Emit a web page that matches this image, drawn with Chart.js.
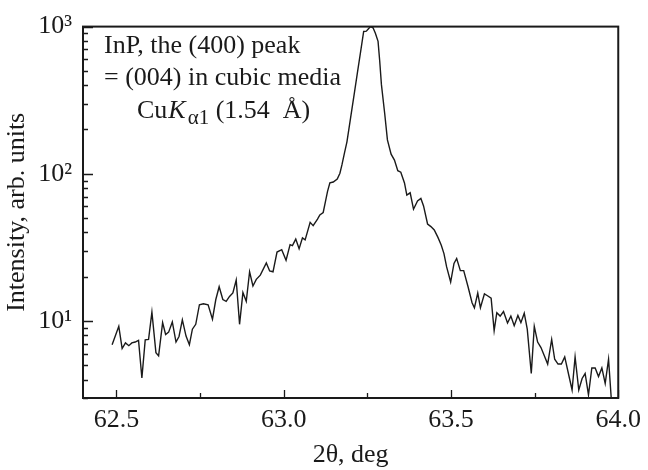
<!DOCTYPE html>
<html>
<head>
<meta charset="utf-8">
<script src="https://cdn.jsdelivr.net/npm/chart.js@4"></script>
<style>
  html, body { margin: 0; padding: 0; background: #fff; }
  canvas { display: block; }
</style>
</head>
<body>
<canvas id="xrd" width="648" height="470"></canvas>
<script>
// 2theta (deg) and intensity
const twoTheta = [
  62.487, 62.507, 62.517, 62.527, 62.537, 62.546, 62.556, 62.566, 62.576, 62.586,
  62.596, 62.606, 62.618, 62.626, 62.638, 62.647, 62.656, 62.667, 62.678, 62.687,
  62.697, 62.708, 62.718, 62.727, 62.737, 62.748, 62.760, 62.774, 62.787, 62.797,
  62.807, 62.818, 62.828, 62.838, 62.848, 62.858, 62.868, 62.878, 62.888, 62.898,
  62.908, 62.918, 62.930, 62.948, 62.958, 62.968, 62.980, 62.994, 63.007, 63.019,
  63.026, 63.036, 63.046, 63.056, 63.064, 63.079, 63.088, 63.101, 63.108, 63.118,
  63.125, 63.131, 63.138, 63.148, 63.160, 63.168, 63.174, 63.182, 63.189, 63.200,
  63.210, 63.220, 63.230, 63.239, 63.247, 63.254, 63.260, 63.267, 63.274, 63.282,
  63.287, 63.292, 63.302, 63.310, 63.321, 63.331, 63.341, 63.350, 63.361, 63.368,
  63.378, 63.388, 63.400, 63.410, 63.418, 63.430, 63.440, 63.450, 63.461, 63.471,
  63.479, 63.487, 63.499, 63.509, 63.517, 63.528, 63.538, 63.551, 63.563, 63.570,
  63.580, 63.588, 63.600, 63.608, 63.620, 63.629, 63.637, 63.647, 63.657, 63.669,
  63.679, 63.689, 63.700, 63.709, 63.719, 63.728, 63.740, 63.749, 63.759, 63.769,
  63.779, 63.789, 63.801, 63.810, 63.820, 63.830, 63.840, 63.852, 63.862, 63.871,
  63.882, 63.892, 63.901, 63.911, 63.921, 63.931, 63.941, 63.951, 63.961, 63.971,
  63.979
];
const intensity = [
  6.9, 9.2, 6.5, 7.1, 6.8, 7.1, 7.2, 7.4, 4.1, 7.45,
  7.5, 11.5, 6.1, 5.8, 9.75, 8.1, 8.4, 9.85, 7.2, 7.85,
  10.2, 7.9, 6.9, 8.8, 9.5, 12.9, 13.1, 12.9, 10.3, 14,
  17.1, 14, 13.6, 14.7, 15.5, 19, 9.5, 15.6, 13.6, 21.6,
  17.3, 19.2, 20.5, 24.8, 21.9, 21.6, 29.4, 30.5, 25.9, 33,
  32.5, 36, 31, 36.7, 35.6, 46.8, 44.4, 49.3, 52.5, 54.6,
  65.3, 76, 86.7, 88, 92, 101, 115, 140, 165, 241,
  340, 481, 679, 927, 931, 970, 1000, 982, 900, 794,
  581, 405, 255, 170, 136, 124, 105, 102.6, 86.7, 71.6,
  74.3, 57.5, 65.3, 68, 60.5, 45.6, 43.8, 41.6, 37, 32.7,
  28.7, 23.3, 18.4, 24.6, 26.6, 22, 22, 17.1, 13.3, 12.3,
  15.5, 12.3, 15.3, 14.9, 14.3, 8.6, 11.4, 10.8, 11.6, 9.7,
  10.8, 9.3, 10.9, 9.75, 11.3, 8.8, 4.4, 9.2, 7.2, 6.6,
  5.8, 5.1, 7.5, 5.5, 5.1, 5.1, 5.7, 4.3, 3.4, 5.7,
  3.4, 4.07, 4.4, 3.15, 4.8, 4.8, 4.2, 4.8, 3.77, 5.5,
  3.0
];

const xTicks = [62.5, 63.0, 63.5, 64.0];
const xMinorTicks = [62.75, 63.25, 63.75];
const yTicks = [10, 100, 1000];
const yMinorTicks = [3, 4, 5, 6, 7, 8, 9, 20, 30, 40, 50, 60, 70, 80, 90,
  200, 300, 400, 500, 600, 700, 800, 900];

const serif = '"Liberation Serif", "Times New Roman", serif';
const ink = '#1a1a1a';
const sup = { 1: '\u00b9', 2: '\u00b2', 3: '\u00b3' };

// frame, inward tick marks and the note in the upper left
const framePlugin = {
  id: 'frame',
  afterDraw(chart) {
    const ctx = chart.ctx;
    const a = chart.chartArea;
    const xs = chart.scales.x;
    const ys = chart.scales.y;
    ctx.save();
    ctx.strokeStyle = ink;
    ctx.lineWidth = 1.3;
    ctx.beginPath();
    xTicks.forEach(v => {
      const px = Math.round(xs.getPixelForValue(v)) + 0.5;
      ctx.moveTo(px, a.bottom); ctx.lineTo(px, a.bottom - 8);
    });
    xMinorTicks.forEach(v => {
      const px = Math.round(xs.getPixelForValue(v)) + 0.5;
      ctx.moveTo(px, a.bottom); ctx.lineTo(px, a.bottom - 5);
    });
    yTicks.forEach(v => {
      const py = Math.round(ys.getPixelForValue(v)) + 0.5;
      ctx.moveTo(a.left, py); ctx.lineTo(a.left + 10, py);
    });
    yMinorTicks.forEach(v => {
      const py = Math.round(ys.getPixelForValue(v)) + 0.5;
      ctx.moveTo(a.left, py); ctx.lineTo(a.left + 5, py);
    });
    ctx.stroke();

    ctx.lineWidth = 2;
    ctx.strokeRect(a.left, a.top, a.right - a.left, a.bottom - a.top);

    ctx.fillStyle = ink;
    ctx.textBaseline = 'alphabetic';
    ctx.font = '26px ' + serif;
    ctx.fillText('InP, the (400) peak', 104, 53);
    ctx.fillText('= (004) in cubic media', 104, 85);
    ctx.fillText('Cu', 137, 118);
    let x = 137 + ctx.measureText('Cu').width + 1;
    ctx.font = 'italic 26px ' + serif;
    ctx.fillText('K', x, 118);
    x += ctx.measureText('K').width + 2;
    ctx.font = '21px ' + serif;
    ctx.fillText('\u03b11', x, 124);
    x += ctx.measureText('\u03b11').width;
    ctx.font = '26px ' + serif;
    ctx.fillText(' (1.54  \u00c5)', x, 118);
    ctx.restore();
  }
};

new Chart(document.getElementById('xrd'), {
  type: 'line',
  data: {
    datasets: [{
      data: twoTheta.map((t, i) => ({ x: t, y: intensity[i] })),
      borderColor: ink,
      borderWidth: 1.4,
      pointRadius: 0,
      tension: 0
    }]
  },
  options: {
    responsive: false,
    animation: false,
    layout: { padding: { top: 23, right: 27, left: 0, bottom: 0 } },
    plugins: { legend: { display: false }, tooltip: { enabled: false } },
    scales: {
      x: {
        type: 'linear',
        min: 62.4,
        max: 64.0,
        afterBuildTicks: s => { s.ticks = xTicks.map(v => ({ value: v })); },
        afterFit: s => { s.height = 72; },
        grid: { display: false, drawTicks: false },
        border: { display: false },
        ticks: {
          callback: v => v.toFixed(1),
          font: { family: serif, size: 26 },
          color: ink,
          padding: 7,
          maxRotation: 0,
          autoSkip: false
        },
        title: {
          display: true,
          text: '2\u03b8, deg',
          font: { family: serif, size: 26 },
          color: ink,
          padding: { top: 0, bottom: -1 }
        }
      },
      y: {
        type: 'logarithmic',
        min: 3,
        max: 1000,
        afterBuildTicks: s => { s.ticks = yTicks.map(v => ({ value: v })); },
        afterFit: s => { s.width = 83; },
        grid: { display: false, drawTicks: false },
        border: { display: false },
        ticks: {
          callback: v => '10' + sup[Math.round(Math.log10(v))],
          font: { family: serif, size: 26 },
          color: ink,
          padding: 11,
          autoSkip: false
        },
        title: {
          display: true,
          text: 'Intensity, arb. units',
          font: { family: serif, size: 26 },
          color: ink,
          padding: { top: 2, bottom: 0 }
        }
      }
    }
  },
  plugins: [framePlugin]
});
</script>
</body>
</html>
